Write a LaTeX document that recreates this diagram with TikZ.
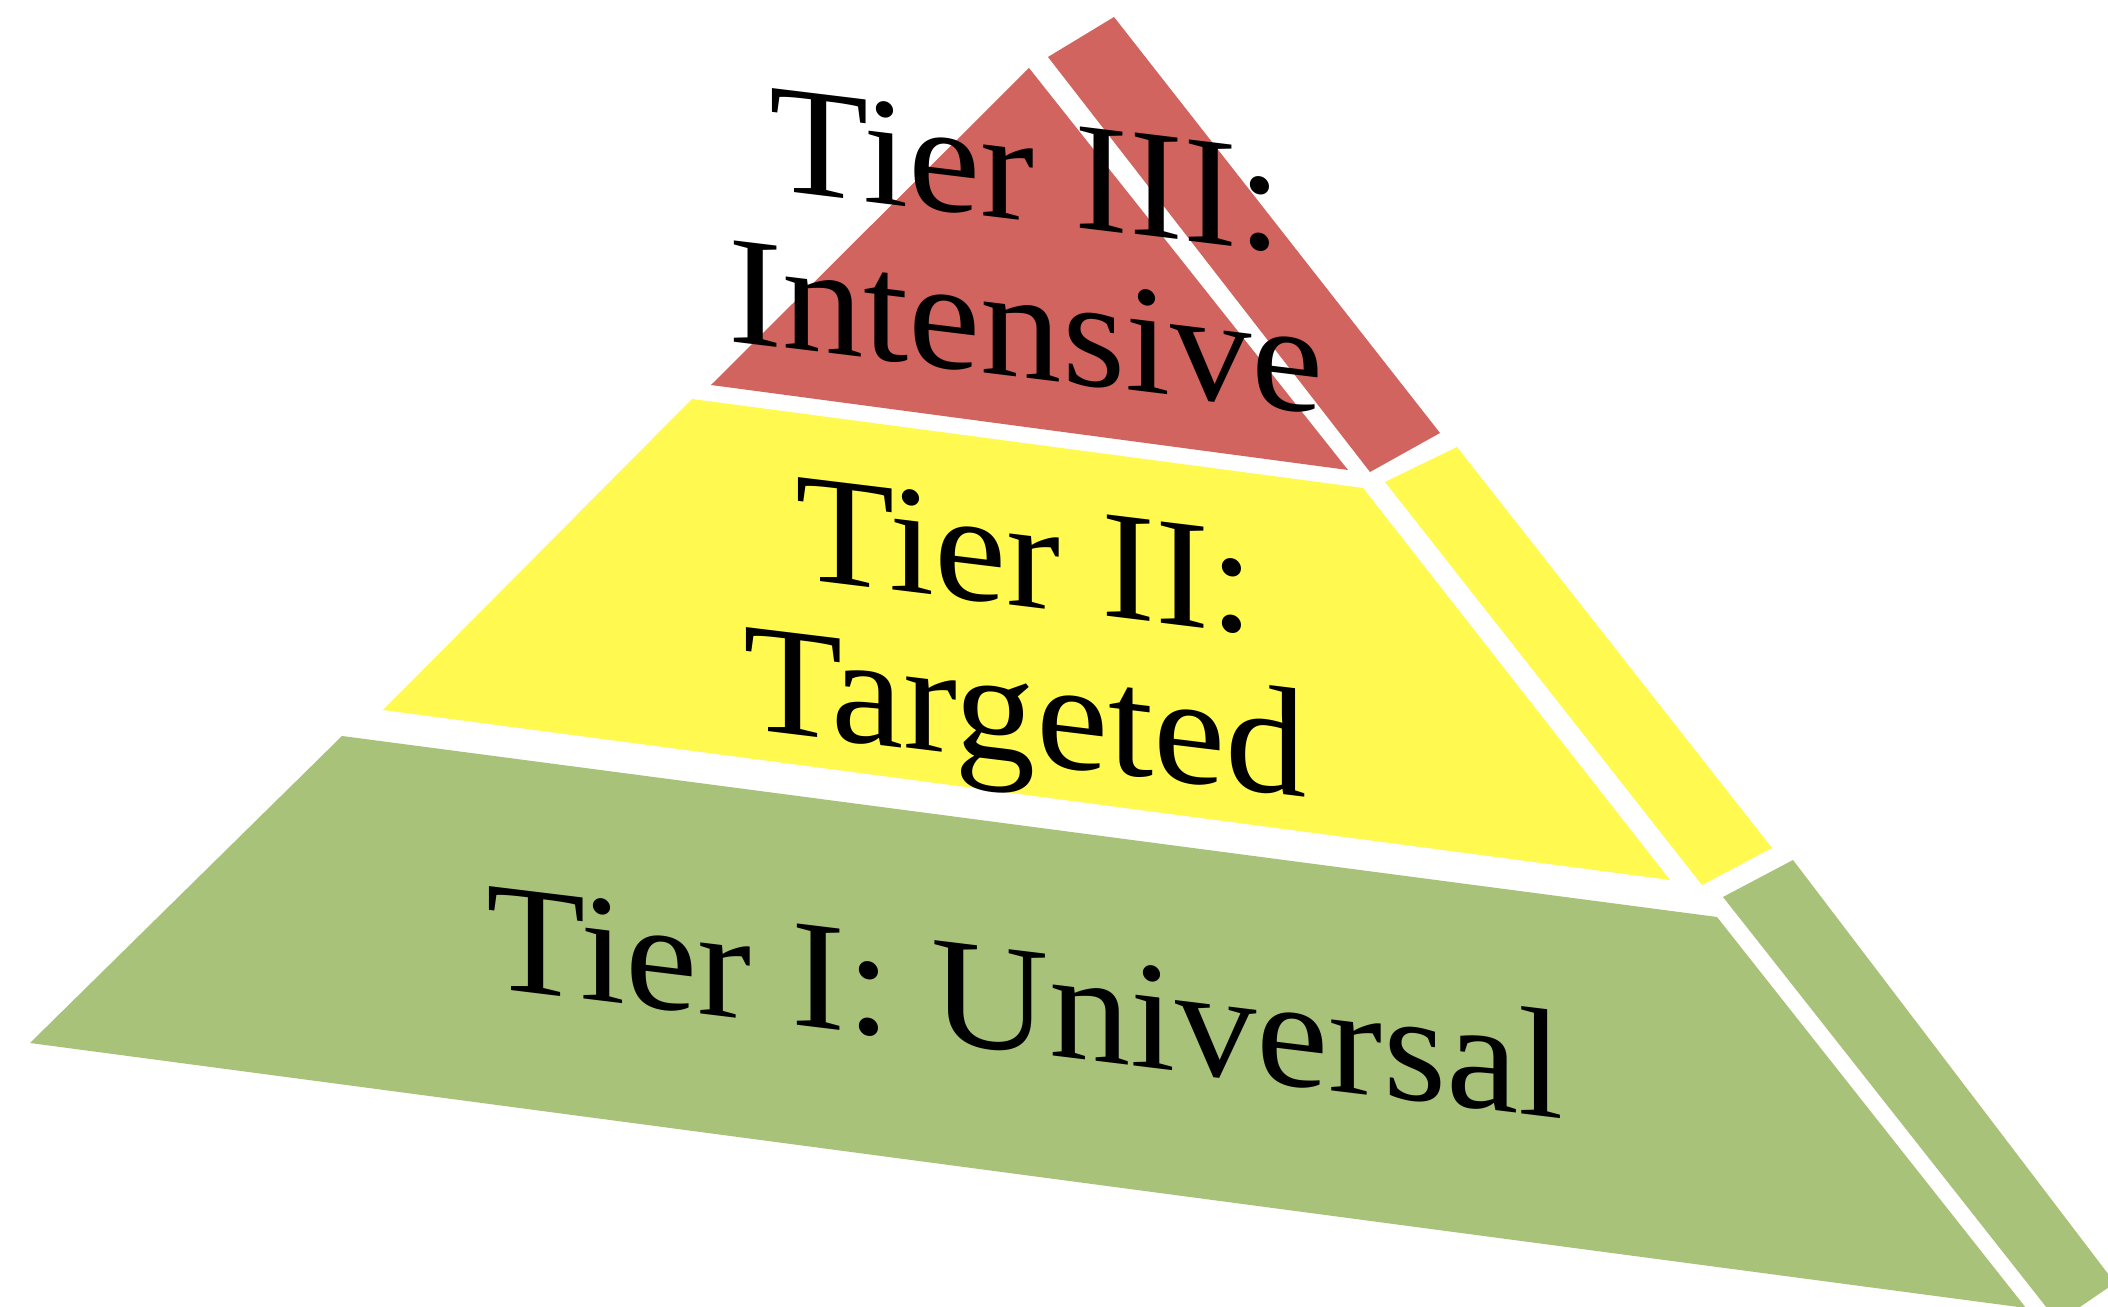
\documentclass[tikz,border=0pt]{standalone}
\usepackage{fontspec}
\setmainfont{Liberation Serif}
\definecolor{tierred}{RGB}{209,100,94}
\definecolor{tieryellow}{RGB}{255,249,80}
\definecolor{tiergreen}{RGB}{169,194,122}
\begin{document}
\begin{tikzpicture}[x=0.01cm,y=-0.01cm,
  lbl/.style={font=\fontsize{44}{44.5}\selectfont, align=center, inner sep=0pt, xscale=1.05, yslant=-0.128}]
\useasboundingbox (0,0) rectangle (2108,1307);
\clip (0,0) rectangle (2108,1307);
\fill[white] (0,0) rectangle (2108,1307);

\fill[tiergreen] (342,736) -- (1717,917) -- (2026,1308) -- (30,1043) -- cycle;
\fill[tiergreen] (1723,897) -- (1793,860) -- (2115,1283) -- (2058,1322) -- cycle;

\fill[tieryellow] (692,399) -- (1363,488) -- (1670,880) -- (383,710) -- cycle;
\fill[tieryellow] (1385,482) -- (1457,447) -- (1772,848) -- (1702,885) -- cycle;

\fill[tierred] (1029,68) -- (1348,470) -- (711,385) -- cycle;
\fill[tierred] (1048,57) -- (1114,17) -- (1440,433) -- (1370,472) -- cycle;

\node[lbl] (tier3) at (1026,249) {Tier III:\\Intensive};
\node[lbl] (tier2) at (1025,650) {Tier II:\\Targeted};
\node[lbl, anchor=base] (tier1) at (1025,1053) {Tier I: Universal};
\end{tikzpicture}
\end{document}
